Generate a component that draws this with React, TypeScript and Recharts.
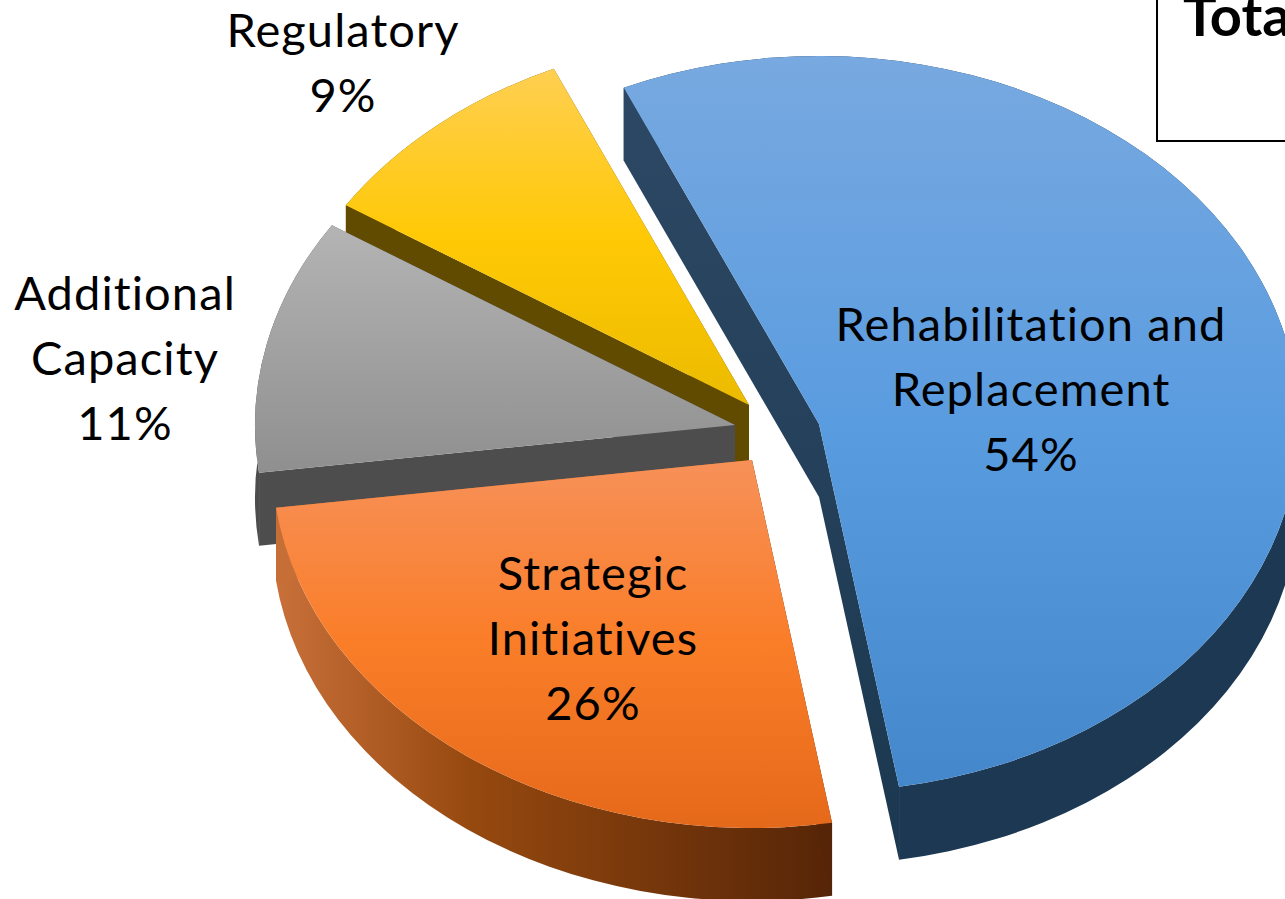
import { PieChart, Pie } from 'recharts';

const categories = ['Regulatory', 'Additional Capacity', 'Strategic Initiatives', 'Rehabilitation and Replacement'];
const shares = [9.2, 11.2, 25.6, 54];
const labelLines = [['Regulatory'], ['Additional', 'Capacity'], ['Strategic', 'Initiatives'], ['Rehabilitation and', 'Replacement']];

const data = categories.map((name, i) => ({ name, value: shares[i] }));

const CX = 760;
const CY = 424;
const RADIUS = 480;
const SQUASH = 368 / 480;
const DEPTH = 73;
const FONT = 'Lato, sans-serif';

// one entry per slice, same order as the data
const looks = [
  { dx: -11, dy: -19, top: 'topYellow', rim: '#665000', cut: '#604b00', cutEnd: '#604b00', lx: 343, ly: 29 },
  { dx: -25, dy: 1, top: 'topGray', rim: '#4d4d4d', cut: '#4d4d4d', cutEnd: '#4d4d4d', lx: 125, ly: 292 },
  { dx: -8, dy: 36, top: 'topOrange', rim: 'url(#rimOrange)', cut: '#c56f37', cutEnd: '#562507', lx: 593, ly: 572 },
  { dx: 59, dy: 0, top: 'topBlue', rim: '#1c3852', cut: 'url(#cutBlue)', cutEnd: 'url(#cutBlue)', lx: 1031, ly: 323 },
];

const SlicePath = (props: any) => {
  const { cx, cy, outerRadius, startAngle, endAngle, index } = props;
  const look = looks[index];
  const ox = cx + look.dx;
  const oy = cy + look.dy;
  const rx = outerRadius;
  const ry = outerRadius * SQUASH;
  const at = (deg: number, drop = 0) => {
    const a = (deg * Math.PI) / 180;
    return `${ox + rx * Math.cos(a)} ${oy - ry * Math.sin(a) + drop}`;
  };
  const large = Math.abs(endAngle - startAngle) > 180 ? 1 : 0;
  const topFace = `M${ox} ${oy} L${at(startAngle)} A${rx} ${ry} 0 ${large} 0 ${at(endAngle)} Z`;
  const rimBand = `M${at(startAngle)} A${rx} ${ry} 0 ${large} 0 ${at(endAngle)} L${at(endAngle, DEPTH)} A${rx} ${ry} 0 ${large} 1 ${at(startAngle, DEPTH)} Z`;
  const cutA = `M${ox} ${oy} L${at(startAngle)} L${at(startAngle, DEPTH)} L${ox} ${oy + DEPTH} Z`;
  const cutB = `M${ox} ${oy} L${at(endAngle)} L${at(endAngle, DEPTH)} L${ox} ${oy + DEPTH} Z`;
  return (
    <g>
      <path d={rimBand} fill={look.rim} />
      <path d={cutA} fill={look.cut} />
      <path d={cutB} fill={look.cutEnd} />
      <path d={topFace} fill={`url(#${look.top})`} />
    </g>
  );
};

const SliceLabel = (props: any) => {
  const { index, percent } = props;
  const look = looks[index];
  const lines = [...labelLines[index], `${Math.round(percent * 100)}%`];
  return (
    <text
      x={look.lx}
      y={look.ly}
      textAnchor="middle"
      fontFamily={FONT}
      fontSize={47}
      letterSpacing={1.1}
      fill="#000"
      style={{ fontVariantLigatures: 'none' }}
    >
      {lines.map((line, i) => (
        <tspan key={i} x={look.lx} y={look.ly + i * 65} dominantBaseline="central">
          {line}
        </tspan>
      ))}
    </text>
  );
};

export default function App() {
  return (
    <div style={{ position: 'fixed', left: 0, top: 0, width: 1285, height: 899, overflow: 'hidden', background: '#fff' }}>
      <PieChart width={1285} height={899} margin={{ top: 0, right: 0, bottom: 0, left: 0 }}>
        <defs>
          <linearGradient id="topYellow" x1="0" y1="0" x2="0" y2="1">
            <stop offset="0" stopColor="#ffcf52" />
            <stop offset="0.5" stopColor="#ffc905" />
            <stop offset="1" stopColor="#ecbb00" />
          </linearGradient>
          <linearGradient id="topGray" x1="0" y1="0" x2="0" y2="1">
            <stop offset="0" stopColor="#b4b4b4" />
            <stop offset="1" stopColor="#8f8f8f" />
          </linearGradient>
          <linearGradient id="topOrange" x1="0" y1="0" x2="0" y2="1">
            <stop offset="0" stopColor="#f79159" />
            <stop offset="0.5" stopColor="#fa7d28" />
            <stop offset="1" stopColor="#e5691a" />
          </linearGradient>
          <linearGradient id="topBlue" x1="0" y1="0" x2="0" y2="1">
            <stop offset="0" stopColor="#78a9e0" />
            <stop offset="0.5" stopColor="#5a9ce0" />
            <stop offset="1" stopColor="#4587cb" />
          </linearGradient>
          <linearGradient id="rimOrange" x1="0" y1="0" x2="1" y2="0">
            <stop offset="0" stopColor="#c9703a" />
            <stop offset="0.35" stopColor="#96490f" />
            <stop offset="1" stopColor="#562507" />
          </linearGradient>
          <linearGradient id="cutBlue" gradientUnits="userSpaceOnUse" x1="0" y1="87" x2="0" y2="860">
            <stop offset="0" stopColor="#2d4864" />
            <stop offset="1" stopColor="#1b3850" />
          </linearGradient>
        </defs>
        <Pie
          data={data}
          dataKey="value"
          cx={CX}
          cy={CY}
          innerRadius={0}
          outerRadius={RADIUS}
          startAngle={114}
          endAngle={474}
          paddingAngle={0}
          stroke="none"
          shape={SlicePath}
          label={SliceLabel}
          labelLine={false}
          isAnimationActive={false}
        />
      </PieChart>
      <div style={{ position: 'absolute', left: 1156, top: -3, width: 200, height: 141, border: '2px solid #000', boxSizing: 'content-box' }} />
      <div style={{ position: 'absolute', left: 1183, top: -20, fontFamily: FONT, fontWeight: 700, fontSize: 56, lineHeight: '70px', color: '#000', whiteSpace: 'nowrap' }}>
        Total
      </div>
    </div>
  );
}
